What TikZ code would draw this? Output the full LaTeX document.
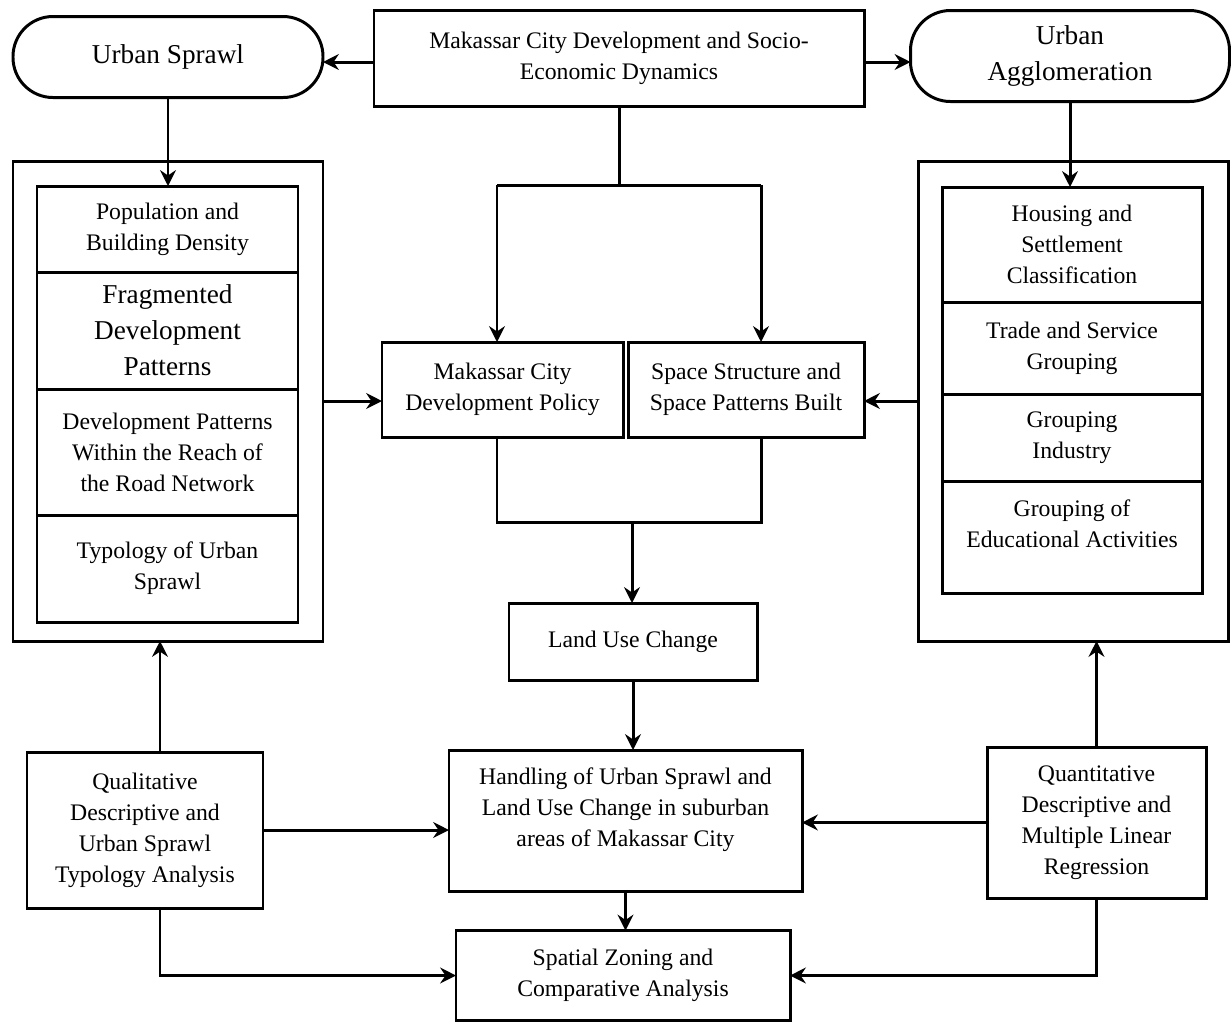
\documentclass[tikz,border=0pt]{standalone}
\usepackage{fontspec}
\setmainfont{Liberation Serif}
\usetikzlibrary{positioning,arrows.meta}

\begin{document}
\begin{tikzpicture}[x=0.2mm,y=-0.2mm,node distance=0 cm,outer sep=0pt,line width=1.7pt,>={Stealth[length=9pt,width=9pt,inset=3pt]}]
    \tikzstyle{box} = [rectangle, draw=black, align=center, font=\fontsize{13.5}{17.6}\selectfont, inner sep=2pt]
    \tikzstyle{term} = [rectangle, rounded corners=0.8cm, draw=black, align=center, font=\fontsize{15.5}{20}\selectfont]
    \tikzstyle{frame} = [rectangle, draw=black, minimum width=6.2cm, minimum height=9.6cm]
    \tikzstyle{LS} = [box, minimum width=5.22cm]
    \tikzstyle{RS} = [box, minimum width=5.2cm]
    \useasboundingbox (0,0) rectangle (1231,1021);

    % top row
    \node (top)    [box, minimum width=9.8cm, minimum height=1.92cm] at (619,58) {Makassar City Development and Socio-\\Economic Dynamics};
    \node (sprawl) [term, minimum width=6.2cm, minimum height=1.62cm] at (168,57) {Urban Sprawl};
    \node (agglo)  [term, minimum width=6.38cm, minimum height=1.82cm] at (1070,56) {Urban\\Agglomeration};

    % urban sprawl frame
    \node (lout) [frame] at (168,401) {};
    \node (pop)  [LS, minimum height=1.72cm] at (167.5,229) {Population and\\Building Density};
    \node (frag) [LS, minimum height=2.34cm, font=\fontsize{15.5}{20.5}\selectfont, below=of pop] {Fragmented\\Development\\Patterns};
    \node (road) [LS, minimum height=2.52cm, below=of frag] {Development Patterns\\Within the Reach of\\the Road Network};
    \node (typo) [LS, minimum height=2.14cm, below=of road] {Typology of Urban\\Sprawl};

    % urban agglomeration frame
    \node (rout)  [frame] at (1073,401) {};
    \node (house) [RS, minimum height=2.3cm] at (1072,244.5) {Housing and\\Settlement\\Classification};
    \node (trade) [RS, minimum height=1.84cm, below=of house] {Trade and Service\\Grouping};
    \node (indus) [RS, minimum height=1.74cm, below=of trade] {Grouping\\Industry};
    \node (edu)   [RS, minimum height=2.24cm, below=of indus] {Grouping of\\Educational Activities\\[-0.1cm]};

    % centre column
    \node (policy)  [box, minimum width=4.82cm, minimum height=1.9cm] at (502.5,389.5) {Makassar City\\Development Policy};
    \node (space)   [box, minimum width=4.72cm, minimum height=1.9cm, right=0.1cm of policy] {Space Structure and\\Space Patterns Built};
    \node (landuse) [box, minimum width=4.96cm, minimum height=1.54cm] at (633,641.5) {Land Use Change};
    \node (handle)  [box, minimum width=7.06cm, minimum height=2.82cm] at (625.5,820.5) {Handling of Urban Sprawl and\\Land Use Change in suburban\\areas of Makassar City\\[-0.1cm]};
    \node (zoning)  [box, minimum width=6.68cm, minimum height=1.8cm] at (623,975.5) {Spatial Zoning and\\Comparative Analysis};

    % analysis boxes
    \node (qual)  [box, minimum width=4.72cm, minimum height=3.12cm] at (145,830) {Qualitative\\Descriptive and\\Urban Sprawl\\Typology Analysis};
    \node (quant) [box, minimum width=4.38cm, minimum height=3.02cm] at (1096.5,822.5) {Quantitative\\Descriptive and\\Multiple Linear\\Regression};

    \coordinate (fl) at (497,185);
    \coordinate (fr) at (761,185);
    \coordinate (join) at (632,522);

    \draw[->] ([yshift=-0.08cm]top.west) -- ([yshift=-0.08cm]top.west -| sprawl.east);
    \draw[->] ([yshift=-0.08cm]top.east) -- ([yshift=-0.08cm]top.east -| agglo.west);
    \draw[->] (sprawl.south) -- (sprawl.south |- pop.north);
    \draw[->] (agglo.south) -- (agglo.south |- house.north);
    \draw (top.south) -- (top.south |- fl);
    \draw (fl) -- (fr);
    \draw[->] (fl) -- (fl |- policy.north);
    \draw[->] (fr) -- (fr |- space.north);
    \draw[->] (lout.east) -- (lout.east -| policy.west);
    \draw[->] (rout.west) -- (rout.west -| space.east);
    \draw (fl |- policy.south) -- (fl |- join) -- (fr |- join) -- (fr |- space.south);
    \draw[->] (join) -- (join |- landuse.north);
    \draw[->] (landuse.south) -- (landuse.south |- handle.north);
    \draw[->] (handle.south) -- (handle.south |- zoning.north);
    \draw[->] ([xshift=0.3cm]qual.north) -- ([xshift=0.3cm]qual.north |- lout.south);
    \draw[->] (quant.north) -- (quant.north |- rout.south);
    \draw[->] (qual.east) -- (qual.east -| handle.west);
    \draw[->] (quant.west) -- (quant.west -| handle.east);
    \draw[->] ([xshift=0.3cm]qual.south) |- (zoning.west);
    \draw[->] (quant.south) |- (zoning.east);
\end{tikzpicture}
\end{document}
